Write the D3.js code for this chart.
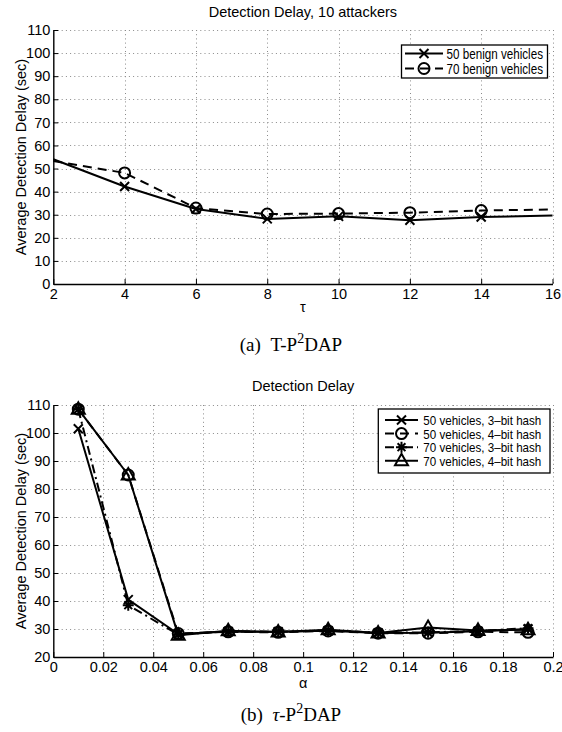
<!DOCTYPE html>
<html>
<head>
<meta charset="utf-8">
<script src="https://cdn.jsdelivr.net/npm/d3@7"></script>
<style>
  html, body { margin: 0; padding: 0; background: #fff; }
  svg { display: block; }
  text { font-family: "Liberation Sans", Arial, Helvetica, sans-serif; fill: #000; }
  .caption { font-family: "Liberation Serif", "Times New Roman", serif; }
</style>
</head>
<body>
<svg id="fig" width="562" height="732"></svg>
<script>
// ---- Panel (a): detection delay vs tau, 10 attackers ----
const tauValues = [2, 4, 6, 8, 10, 12, 14, 16];
const delay50Benign = [54.0, 42.2, 32.5, 28.2, 29.3, 27.6, 29.0, 29.7];
const delay70Benign = [53.3, 48.1, 32.9, 30.3, 30.5, 30.9, 31.8, 32.3];
const tauTicks = [2, 4, 6, 8, 10, 12, 14, 16];
const delayTicksA = [0, 10, 20, 30, 40, 50, 60, 70, 80, 90, 100, 110];
const seriesNamesA = ["50 benign vehicles", "70 benign vehicles"];

// ---- Panel (b): detection delay vs alpha ----
const alphaValues = [0.01, 0.03, 0.05, 0.07, 0.09, 0.11, 0.13, 0.15, 0.17, 0.19];
const delay50v3bit = [101.5, 40.5, 28.2, 29.1, 29.0, 29.4, 28.6, 28.7, 29.2, 30.0];
const delay50v4bit = [108.5, 85.0, 28.4, 29.0, 28.8, 29.3, 28.5, 28.5, 29.0, 28.8];
const delay70v3bit = [108.5, 38.5, 28.0, 29.2, 29.0, 29.5, 28.7, 28.8, 29.3, 30.3];
const delay70v4bit = [108.5, 85.0, 27.8, 29.4, 28.9, 29.7, 28.6, 30.5, 29.5, 29.7];
const alphaTicks = [0, 0.02, 0.04, 0.06, 0.08, 0.1, 0.12, 0.14, 0.16, 0.18, 0.2];
const delayTicksB = [20, 30, 40, 50, 60, 70, 80, 90, 100, 110];
const seriesNamesB = ["50 vehicles, 3\u2013bit hash", "50 vehicles, 4\u2013bit hash",
                      "70 vehicles, 3\u2013bit hash", "70 vehicles, 4\u2013bit hash"];

const svg = d3.select("#fig");
const FONT = 14.5;

// marker glyphs, centred on (0,0)
function addMarker(g, type, x, y) {
  const t = `translate(${x},${y})`;
  const common = s => s.attr("transform", t).attr("fill", "none")
                       .attr("stroke", "#000").attr("stroke-width", 2);
  if (type === "o") {
    common(g.append("circle").attr("r", 5.5));
  } else if (type === "x") {
    common(g.append("path").attr("d", "M-4.5,-4.5L4.5,4.5M-4.5,4.5L4.5,-4.5"));
  } else if (type === "*") {
    common(g.append("path").attr("d",
      "M-5.5,0L5.5,0M0,-5.5L0,5.5M-3.9,-3.9L3.9,3.9M-3.9,3.9L3.9,-3.9"));
  } else if (type === "^") {
    common(g.append("path").attr("d", "M0,-7L6.5,4.5L-6.5,4.5Z"));
  }
}

function drawPanel(cfg) {
  const g = svg.append("g");
  const x = d3.scaleLinear().domain(cfg.xDomain).range([cfg.left, cfg.right]);
  const y = d3.scaleLinear().domain(cfg.yDomain).range([cfg.bottom, cfg.top]);

  // dotted grid (also closes the top and right sides)
  const grid = g.append("g").attr("stroke", "#8a8a8a").attr("stroke-width", 1)
                .attr("stroke-dasharray", "1,3.2");
  grid.selectAll("line.gx").data(cfg.xTicks.slice(1)).join("line")
      .attr("x1", d => Math.round(x(d)) + 0.5).attr("x2", d => Math.round(x(d)) + 0.5)
      .attr("y1", cfg.top).attr("y2", cfg.bottom);
  grid.selectAll("line.gy").data(cfg.yTicks.slice(1)).join("line")
      .attr("y1", d => Math.round(y(d)) + 0.5).attr("y2", d => Math.round(y(d)) + 0.5)
      .attr("x1", cfg.left).attr("x2", cfg.right);

  // axes with inward ticks
  const xAxis = d3.axisBottom(x).tickValues(cfg.xTicks).tickFormat(cfg.xFormat)
                  .tickSizeInner(-5).tickSizeOuter(0).tickPadding(4);
  const yAxis = d3.axisLeft(y).tickValues(cfg.yTicks).tickFormat(d3.format("d"))
                  .tickSizeInner(-5).tickSizeOuter(0).tickPadding(3);
  const gx = g.append("g").attr("transform", `translate(0,${cfg.bottom})`).call(xAxis);
  const gy = g.append("g").attr("transform", `translate(${cfg.left},0)`).call(yAxis);
  [gx, gy].forEach(a => {
    a.select(".domain").attr("stroke", "#000").attr("stroke-width", 1.4);
    a.selectAll(".tick line").attr("stroke", "#000").attr("stroke-width", 1);
    a.selectAll(".tick text").style("font-size", FONT + "px")
      .style("font-family", '"Liberation Sans", Arial, sans-serif').attr("fill", "#000");
  });
  gx.selectAll(".tick text").attr("dy", "0.75em");

  // title and axis labels
  g.append("text").attr("x", (cfg.left + cfg.right) / 2).attr("y", cfg.titleY)
   .attr("text-anchor", "middle").style("font-size", FONT + "px").text(cfg.title);
  g.append("text").attr("x", (cfg.left + cfg.right) / 2).attr("y", cfg.xLabelY)
   .attr("text-anchor", "middle").style("font-size", FONT + "px").text(cfg.xLabel);
  g.append("text")
   .attr("transform", `translate(26,${(cfg.top + cfg.bottom) / 2}) rotate(-90)`)
   .attr("text-anchor", "middle").style("font-size", FONT + "px")
   .text("Average Detection Delay (sec)");

  // data lines then markers
  const line = d3.line().x(d => x(d[0])).y(d => y(d[1]));
  const plot = g.append("g");
  cfg.series.forEach(s => {
    const pts = cfg.xValues.map((v, i) => [v, s.values[i]]);
    plot.append("path").datum(pts).attr("d", line).attr("fill", "none")
        .attr("stroke", "#000").attr("stroke-width", 2)
        .attr("stroke-linejoin", "round")
        .attr("stroke-dasharray", s.dash);
    pts.filter(p => p[0] > cfg.xDomain[0] && p[0] < cfg.xDomain[1])
       .forEach(p => addMarker(plot, s.marker, x(p[0]), y(p[1])));
  });

  // legend
  const L = cfg.legend;
  const lg = g.append("g");
  lg.append("rect").attr("x", L.x).attr("y", L.y).attr("width", L.w).attr("height", L.h)
    .attr("fill", "#fff").attr("stroke", "#000").attr("stroke-width", 1.3);
  cfg.series.forEach((s, i) => {
    const cy = L.firstRow + i * L.rowGap;
    lg.append("line").attr("x1", L.lineX0).attr("x2", L.lineX1).attr("y1", cy).attr("y2", cy)
      .attr("stroke", "#000").attr("stroke-width", 2).attr("stroke-dasharray", s.dash);
    addMarker(lg, s.marker, (L.lineX0 + L.lineX1) / 2, cy);
    lg.append("text").attr("x", L.textX).attr("y", cy + 5)
      .style("font-size", L.fontSize + "px")
      .attr("textLength", L.textLen).attr("lengthAdjust", "spacingAndGlyphs")
      .text(s.name);
  });
}

// caption below each panel: "(a)  T-P²DAP"
function caption(yBase, label, prefix, italicPrefix) {
  const t = svg.append("text").attr("class", "caption").attr("x", 291).attr("y", yBase)
     .attr("text-anchor", "middle").style("font-size", "19px");
  t.append("tspan").text(label + "\u2002");
  t.append("tspan").style("font-style", italicPrefix ? "italic" : "normal").text(prefix);
  t.append("tspan").text("-P");
  t.append("tspan").attr("dy", -8).style("font-size", "14px").text("2");
  t.append("tspan").attr("dy", 8).text("DAP");
}

drawPanel({
  xDomain: [2, 16], yDomain: [0, 110],
  left: 53.3, right: 552.5, top: 30, bottom: 284,
  xTicks: tauTicks, yTicks: delayTicksA, xFormat: d3.format("d"),
  xValues: tauValues,
  title: "Detection Delay, 10 attackers", titleY: 17,
  xLabel: "\u03C4", xLabelY: 312,
  series: [
    { name: seriesNamesA[0], values: delay50Benign, dash: null, marker: "x" },
    { name: seriesNamesA[1], values: delay70Benign, dash: "9,6", marker: "o" }
  ],
  legend: { x: 401.5, y: 45, w: 146, h: 33, firstRow: 53.5, rowGap: 15,
            lineX0: 405, lineX1: 443, textX: 446.5, textLen: 96.5, fontSize: 14 }
});

drawPanel({
  xDomain: [0, 0.2], yDomain: [20, 110],
  left: 53.3, right: 553, top: 405, bottom: 657,
  xTicks: alphaTicks, yTicks: delayTicksB, xFormat: d => d3.format("")(+d.toFixed(2)),
  xValues: alphaValues,
  title: "Detection Delay", titleY: 391,
  xLabel: "\u03B1", xLabelY: 688,
  series: [
    { name: seriesNamesB[0], values: delay50v3bit, dash: null, marker: "x" },
    { name: seriesNamesB[1], values: delay50v4bit, dash: "9,6", marker: "o" },
    { name: seriesNamesB[2], values: delay70v3bit, dash: "9,4,2,4", marker: "*" },
    { name: seriesNamesB[3], values: delay70v4bit, dash: null, marker: "^" }
  ],
  legend: { x: 378.3, y: 409, w: 171.7, h: 64, firstRow: 420, rowGap: 13.6,
            lineX0: 385, lineX1: 418, textX: 423.3, textLen: 118, fontSize: 13.5 }
});

caption(351, "(a)", "T", false);
caption(721, "(b)", "\u03C4", true);
</script>
</body>
</html>
